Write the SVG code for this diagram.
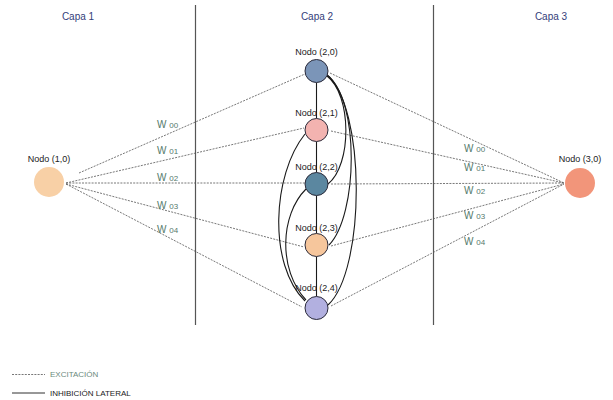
<svg xmlns="http://www.w3.org/2000/svg" width="613" height="400" viewBox="0 0 613 400">
  <style>
    .layer-title { font-family: "Liberation Sans", Arial, sans-serif; font-size: 10px; fill: #34407a; text-anchor: middle; }
    .node-label { font-family: "Liberation Sans", Arial, sans-serif; font-size: 9px; fill: #222; text-anchor: middle; }
    .weight { font-family: "Liberation Sans", Arial, sans-serif; font-size: 10px; fill: #557a6c; }
    .weight tspan { font-size: 8px; }
    .divider { stroke: #555; stroke-width: 1.2; }
    .excite { stroke: #555; stroke-width: 0.8; stroke-dasharray: 2 1.2; fill: none; }
    .inhibit { stroke: #1a1a1a; stroke-width: 1.1; fill: none; }
    .hidden { stroke: #2b2b3a; stroke-width: 1; }
    .legend { font-family: "Liberation Sans", Arial, sans-serif; font-size: 8px; }
  </style>

  <rect width="613" height="400" fill="#ffffff"/>

  <!-- layer separators and titles -->
  <g id="layers">
    <line class="divider" x1="195.5" y1="5" x2="195.5" y2="325"/>
    <line class="divider" x1="433.5" y1="5" x2="433.5" y2="325"/>
    <text class="layer-title" x="78" y="20">Capa 1</text>
    <text class="layer-title" x="317" y="20">Capa 2</text>
    <text class="layer-title" x="551" y="20">Capa 3</text>
  </g>

  <!-- connectors -->
  <g id="connectors">
    <!-- excitatory links, layer 1 to layer 2 -->
    <line class="excite" x1="79" y1="173" x2="305" y2="74"/>
    <line class="excite" x1="66" y1="183" x2="304" y2="128"/>
    <line class="excite" x1="66" y1="183" x2="305" y2="183"/>
    <line class="excite" x1="66" y1="184" x2="304" y2="247"/>
    <line class="excite" x1="66" y1="184" x2="302" y2="307"/>
    <!-- excitatory links, layer 2 to layer 3 -->
    <line class="excite" x1="330" y1="73" x2="564" y2="183"/>
    <line class="excite" x1="331" y1="131" x2="564" y2="183"/>
    <line class="excite" x1="331" y1="184" x2="564" y2="183"/>
    <line class="excite" x1="331" y1="246" x2="564" y2="184"/>
    <line class="excite" x1="331" y1="306" x2="564" y2="184"/>

    <!-- lateral inhibition between neighbours -->
    <line class="inhibit" x1="316.5" y1="82.5" x2="316.5" y2="118.5"/>
    <line class="inhibit" x1="316.5" y1="141.5" x2="316.5" y2="172.5"/>
    <line class="inhibit" x1="316.5" y1="195.5" x2="316.5" y2="233.5"/>
    <line class="inhibit" x1="316.5" y1="256.5" x2="316.5" y2="296.5"/>

    <!-- lateral inhibition, long range (right side) -->
    <path class="inhibit" d="M327 76 C352 95 352 165 328 184"/>
    <path class="inhibit" d="M327 75 C360 100 358 215 329 245"/>
    <path class="inhibit" d="M326 74 C366 105 366 270 328 305"/>
    <!-- lateral inhibition, long range (left side) -->
    <path class="inhibit" d="M305 134 C272 175 268 265 305 301"/>
    <path class="inhibit" d="M306 189 C280 215 278 270 306 300"/>
  </g>

  <!-- layer 1 -->
  <g id="node-1-0">
    <circle cx="49" cy="182" r="15" fill="#f8d0a6"/>
    <text class="node-label" x="49" y="162">Nodo (1,0)</text>
  </g>

  <!-- layer 2 -->
  <g id="node-2-0">
    <circle class="hidden" cx="316.5" cy="71" r="11.5" fill="#7b95b8"/>
    <text class="node-label" x="316.5" y="55">Nodo (2,0)</text>
  </g>
  <g id="node-2-1">
    <circle class="hidden" cx="316.5" cy="130" r="11.5" fill="#f3b3b0"/>
    <text class="node-label" x="316.5" y="116">Nodo (2,1)</text>
  </g>
  <g id="node-2-2">
    <circle class="hidden" cx="316.5" cy="184" r="11.5" fill="#5b87a0"/>
    <text class="node-label" x="316.5" y="170">Nodo (2,2)</text>
  </g>
  <g id="node-2-3">
    <circle class="hidden" cx="316.5" cy="245" r="11.5" fill="#f6c69c"/>
    <text class="node-label" x="316.5" y="231">Nodo (2,3)</text>
  </g>
  <g id="node-2-4">
    <circle class="hidden" cx="316.5" cy="308" r="11.5" fill="#b2b0e0"/>
    <text class="node-label" x="316.5" y="291">Nodo (2,4)</text>
  </g>

  <!-- layer 3 -->
  <g id="node-3-0">
    <circle cx="580" cy="183" r="15" fill="#f2957a"/>
    <text class="node-label" x="580" y="162">Nodo (3,0)</text>
  </g>

  <!-- weights -->
  <g id="weights-in">
    <text class="weight" x="157" y="128">W <tspan>00</tspan></text>
    <text class="weight" x="157" y="154">W <tspan>01</tspan></text>
    <text class="weight" x="157" y="181">W <tspan>02</tspan></text>
    <text class="weight" x="157" y="209">W <tspan>03</tspan></text>
    <text class="weight" x="157" y="233">W <tspan>04</tspan></text>
  </g>
  <g id="weights-out">
    <text class="weight" x="464" y="152">W <tspan>00</tspan></text>
    <text class="weight" x="464" y="171">W <tspan>01</tspan></text>
    <text class="weight" x="464" y="194">W <tspan>02</tspan></text>
    <text class="weight" x="464" y="219">W <tspan>03</tspan></text>
    <text class="weight" x="464" y="245">W <tspan>04</tspan></text>
  </g>

  <!-- legend -->
  <g id="legend">
    <line class="excite" x1="12" y1="374.5" x2="45" y2="374.5"/>
    <text class="legend" x="50" y="377" fill="#6b8a7c" font-size="7.5">EXCITACIÓN</text>
    <line stroke="#1a1a1a" stroke-width="0.9" x1="12" y1="393" x2="45" y2="393"/>
    <text class="legend" x="50" y="396" fill="#222">INHIBICIÓN LATERAL</text>
  </g>
</svg>
